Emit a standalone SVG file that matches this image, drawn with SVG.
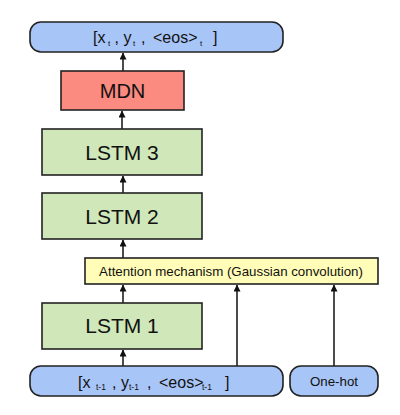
<svg xmlns="http://www.w3.org/2000/svg" width="400" height="415" viewBox="0 0 400 415">
<defs>
<marker id="ah" markerWidth="7" markerHeight="8" refX="6.5" refY="3.5" orient="auto" markerUnits="userSpaceOnUse">
<path d="M0,0 L7,3.5 L0,7 Z" fill="#111"/>
</marker>
<style>
.box{stroke:#222;stroke-width:1.6}
.blue{fill:#a8c5f7}
.red{fill:#fb8a80}
.green{fill:#cfe7b9}
.yellow{fill:#fffdb8}
.t{font-family:"Liberation Sans",Arial,sans-serif;fill:#111;text-anchor:middle}
.s{font-family:"Liberation Sans",Arial,sans-serif;fill:#111}
.c{stroke:#111;stroke-width:1.5;fill:none;marker-end:url(#ah)}
</style>
</defs>
<rect width="400" height="415" fill="#fff"/>
<g id="connectors">
<line class="c" x1="123" y1="71" x2="123" y2="53"/>
<line class="c" x1="122" y1="129" x2="122" y2="111"/>
<line class="c" x1="123" y1="193" x2="123" y2="176"/>
<line class="c" x1="123" y1="258" x2="123" y2="240"/>
<line class="c" x1="123" y1="303" x2="123" y2="285"/>
<line class="c" x1="123" y1="366" x2="123" y2="350"/>
<line class="c" x1="237" y1="366" x2="237" y2="285"/>
<line class="c" x1="334" y1="366" x2="334" y2="285"/>
</g>
<g id="output">
<rect class="box blue" x="30" y="22" width="253" height="30" rx="11"/>
<text class="s" y="43" font-size="16"><tspan x="93">[x</tspan><tspan x="108" y="46" font-size="8">t</tspan><tspan x="114.5" y="43">, y</tspan><tspan x="133" y="46" font-size="8">t</tspan><tspan x="141" y="43">,</tspan><tspan x="153" y="43">&lt;eos&gt;</tspan><tspan x="200" y="46" font-size="8">t</tspan><tspan x="213" y="43">]</tspan></text>
</g>
<g id="mdn">
<rect class="box red" x="61" y="71" width="123" height="39"/>
<text class="t" x="122.5" y="98" font-size="20">MDN</text>
</g>
<g id="lstm3">
<rect class="box green" x="42" y="129" width="160" height="46"/>
<text class="t" x="122" y="159.5" font-size="21">LSTM 3</text>
</g>
<g id="lstm2">
<rect class="box green" x="42" y="193" width="160" height="46"/>
<text class="t" x="122" y="223.5" font-size="21">LSTM 2</text>
</g>
<g id="attention">
<rect class="box yellow" x="85" y="258" width="293" height="26"/>
<text class="t" x="231" y="276" font-size="13.3">Attention mechanism (Gaussian convolution)</text>
</g>
<g id="lstm1">
<rect class="box green" x="42" y="303" width="160" height="46"/>
<text class="t" x="122" y="332.5" font-size="21">LSTM 1</text>
</g>
<g id="input">
<rect class="box blue" x="30" y="366" width="253" height="30" rx="11"/>
<text class="s" y="388" font-size="16"><tspan x="78">[x</tspan><tspan x="96" y="390" font-size="8.5">t-1</tspan><tspan x="112" y="388">, y</tspan><tspan x="129" y="390" font-size="8.5">t-1</tspan><tspan x="147" y="388">,</tspan><tspan x="159" y="388">&lt;eos&gt;</tspan><tspan x="202" y="390" font-size="8.5">t-1</tspan><tspan x="225" y="388">]</tspan></text>
</g>
<g id="onehot">
<rect class="box blue" x="290" y="366" width="88" height="30" rx="11"/>
<text class="t" x="334" y="386" font-size="13.3">One-hot</text>
</g>
</svg>
